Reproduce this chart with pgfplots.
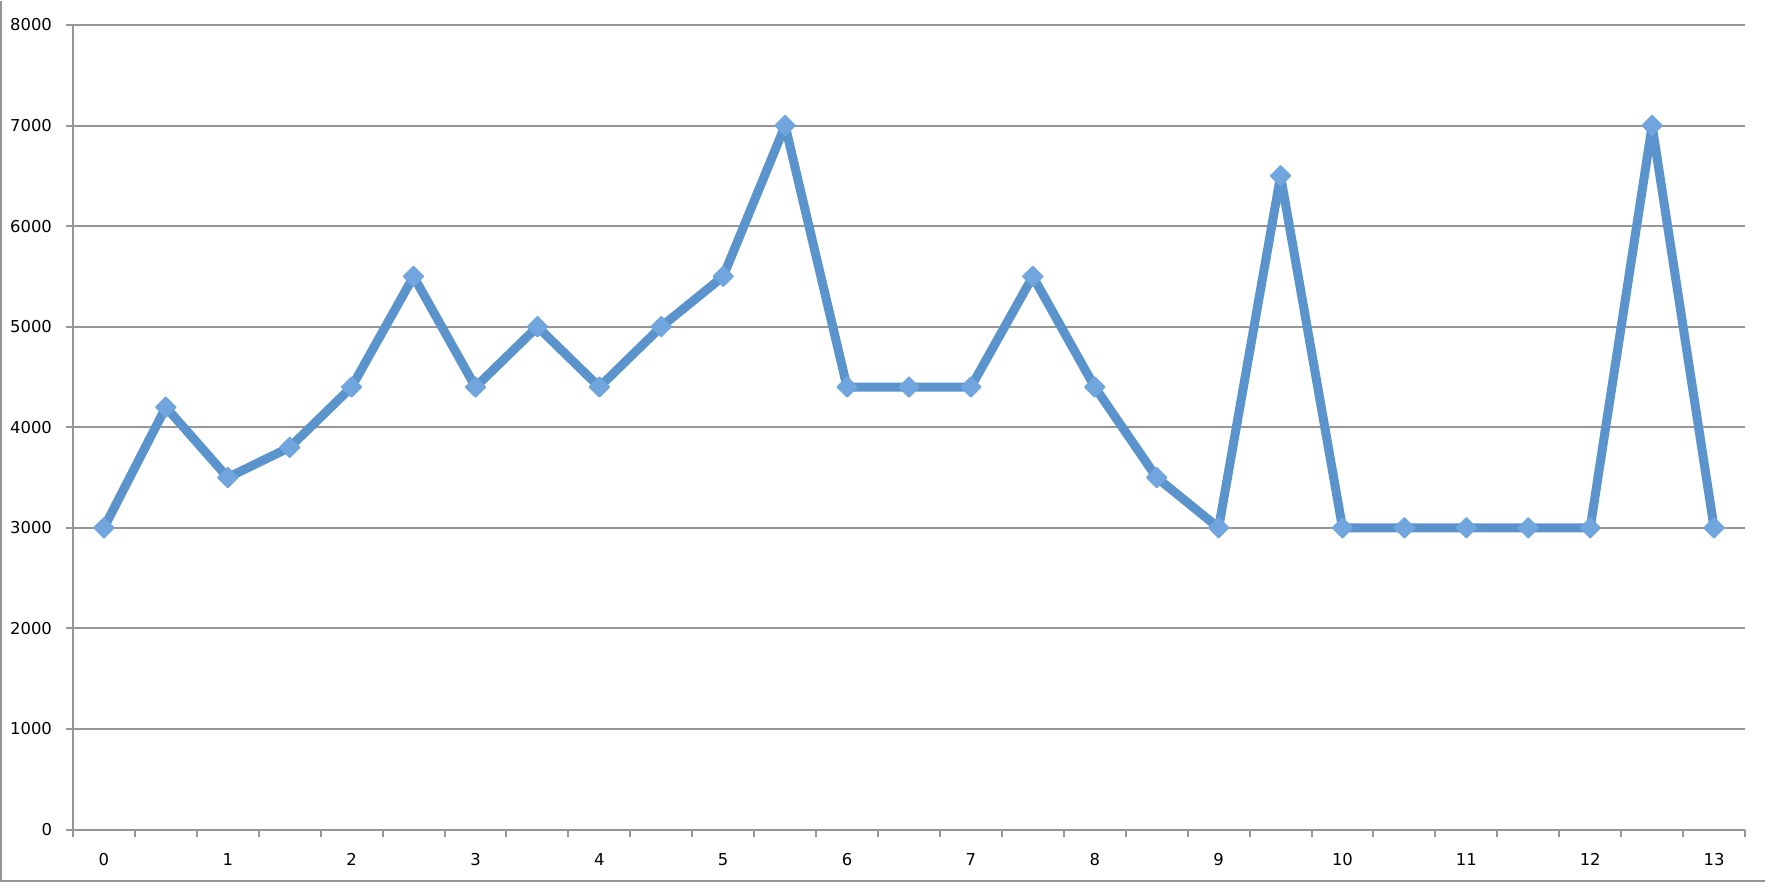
\documentclass[border=0pt]{standalone}
\usepackage{fontspec}
\setmainfont{DejaVu Sans}
\usepackage{pgfplots}
\pgfplotsset{compat=1.18}
\definecolor{linecol}{RGB}{91,148,205}
\definecolor{markcol}{RGB}{112,165,222}
\definecolor{gridcol}{RGB}{150,150,150}
\begin{document}
\begin{tikzpicture}
\path (0,0) rectangle (883bp,441bp);
\draw[gridcol, line width=1bp] (0.5bp,441bp) -- (0.5bp,1bp) -- (883bp,1bp);
\begin{axis}[
  at={(36.5bp,26.5bp)}, anchor=south west,
  width=836.5bp, height=402.5bp, scale only axis,
  xmin=-0.25, xmax=13.25,
  ymin=0, ymax=8000,
  axis lines=left,
  axis line style={gridcol, line width=1bp, -},
  xtick={0,...,13},
  minor xtick={-0.25,0.25,...,13.25},
  ytick={0,1000,...,8000},
  major x tick style={draw=none},
  minor x tick style={gridcol, line width=1bp},
  minor tick length=3.5bp,
  y tick style={gridcol, line width=1bp},
  major tick length=3.5bp,
  tick align=outside,
  ymajorgrids,
  major grid style={gridcol, line width=1bp},
  scaled y ticks=false,
  yticklabel style={/pgf/number format/1000 sep={}, xshift=-3.5bp},
  xticklabel style={yshift=-5bp},
  /pgf/number format/assume math mode=true,
  tick label style={font=\fontsize{8.2bp}{10bp}\selectfont, text=black},
  clip=false,
]
\addplot[color=linecol, line width=4.5bp, line join=round,
  mark=square*, mark size=3.5bp,
  mark options={rotate=45, fill=markcol, draw=markcol, line width=0.8bp}]
  coordinates {
  (0,3000) (0.5,4200) (1,3500) (1.5,3800) (2,4400) (2.5,5500)
  (3,4400) (3.5,5000) (4,4400) (4.5,5000) (5,5500) (5.5,7000)
  (6,4400) (6.5,4400) (7,4400) (7.5,5500) (8,4400) (8.5,3500)
  (9,3000) (9.5,6500) (10,3000) (10.5,3000) (11,3000) (11.5,3000)
  (12,3000) (12.5,7000) (13,3000)
  };
\end{axis}
\end{tikzpicture}
\end{document}
